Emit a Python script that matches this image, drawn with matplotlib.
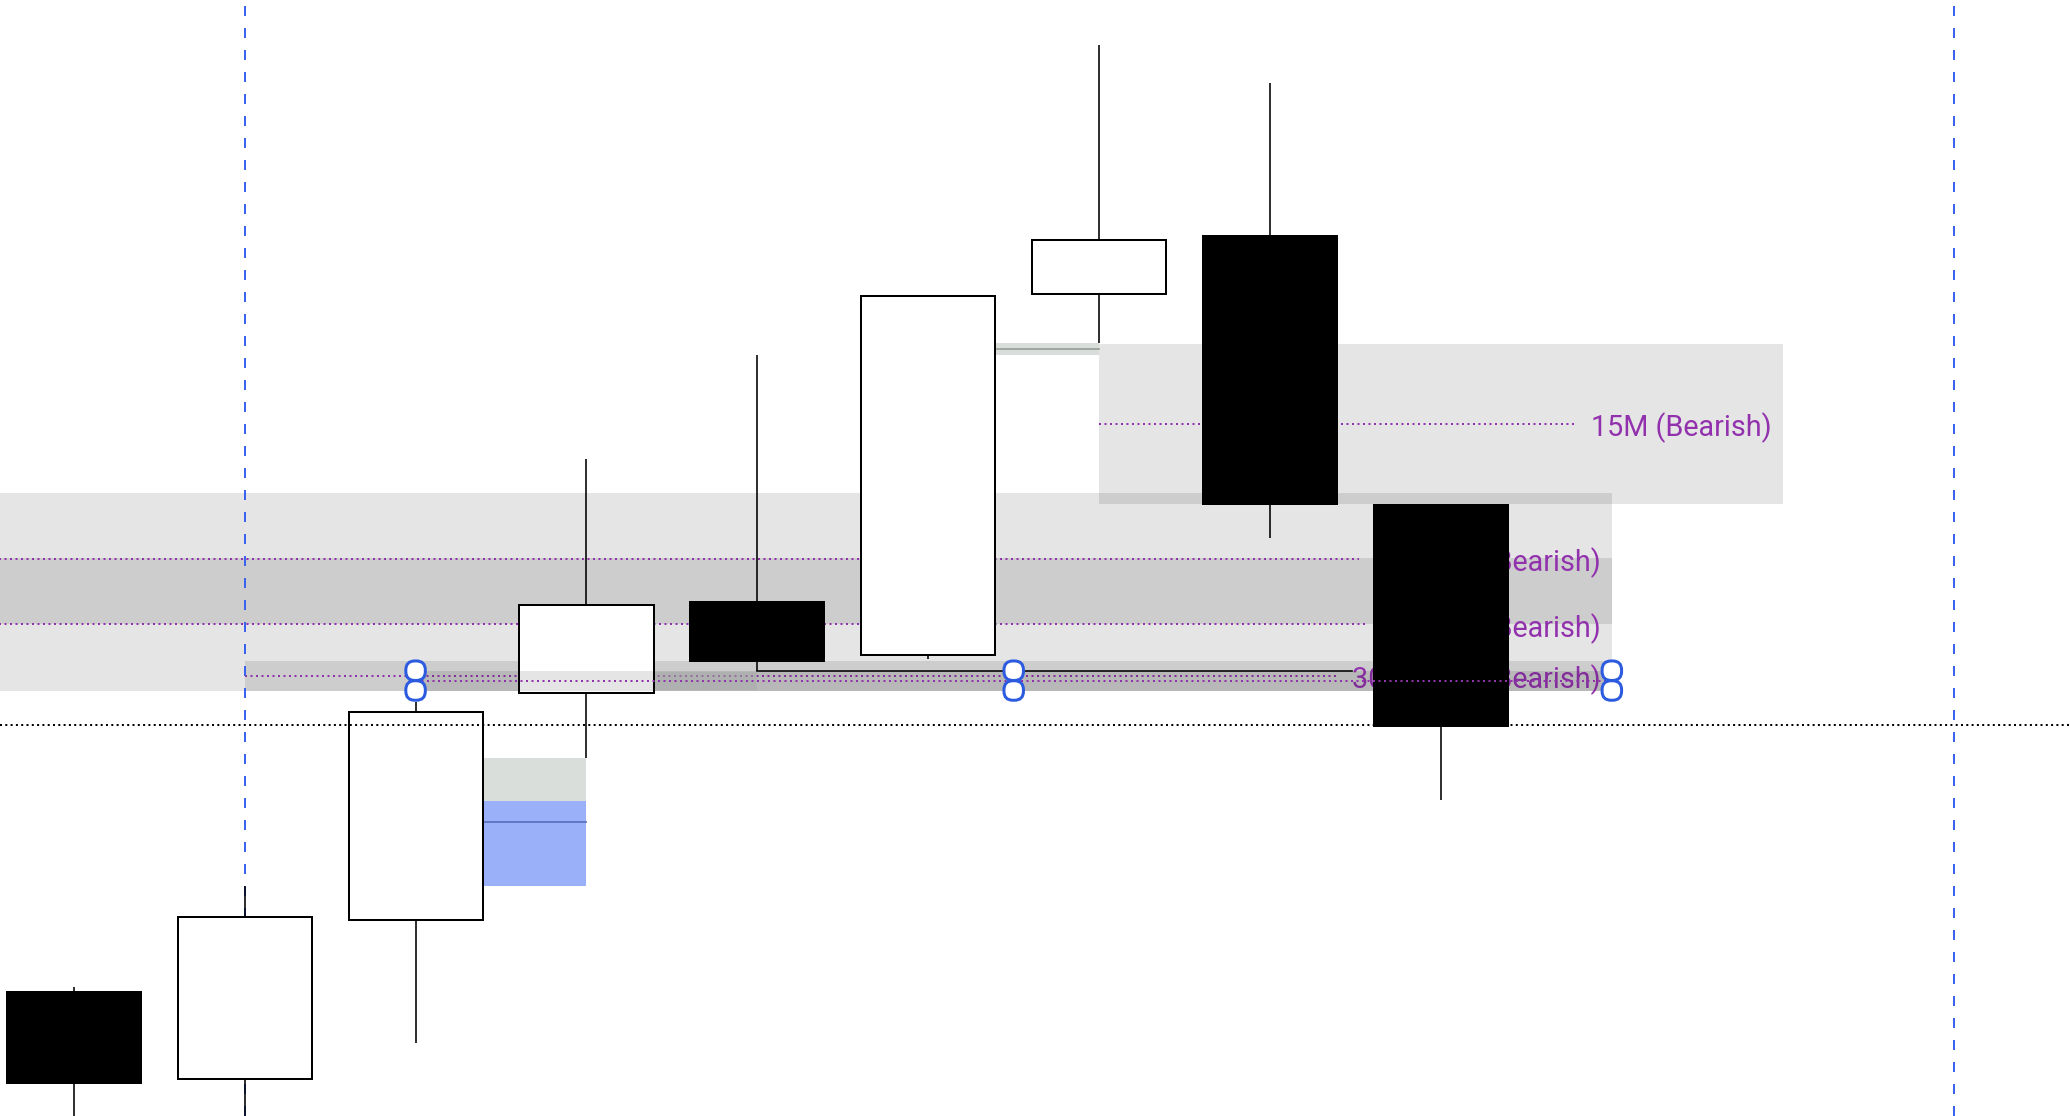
import matplotlib
matplotlib.use("Agg")
import matplotlib.pyplot as plt
from matplotlib.patches import Rectangle, FancyBboxPatch
from matplotlib.transforms import IdentityTransform
import numpy as np

W, H, DPI = 2070, 1116, 100
PX = 72.0 / DPI  # points per pixel

# ---------------- data ----------------
bar_index = np.arange(9)
opens  = [124.0, 37.0, 196.0, 422.7, 514.0, 461.3, 822.0, 880.0, 611.0]
closes = [33.3, 199.3, 404.3, 511.3, 455.0, 819.7, 875.7, 612.3, 390.3]
highs  = [129.0, 230.0, 414.0, 656.6, 761.0, 819.7, 1071.0, 1033.0, 611.0]
lows   = [-20.0, -20.0, 73.3, 358.3, 445.3, 456.7, 773.3, 578.3, 316.0]

# higher-timeframe zones (bar start, bar end, top, bottom, label)
zone_labels = ["4H iFVG (Bearish)", "1H FVG (Bearish)", "30M iFVG (Bearish)", "15M (Bearish)"]
zone_start  = [-1.0, -1.0, 1.0, 6.0]
zone_end    = [9.0, 9.0, 9.0, 10.0]
zone_top    = [623.0, 558.0, 455.0, 772.0]
zone_bottom = [492.0, 425.5, 425.5, 612.0]

# selected rectangle drawing
sel_start, sel_end = 2.0, 9.0
sel_top, sel_bottom = 445.3, 425.5
handle_bars = [2.0, 5.5, 9.0]

# gap boxes (grey-green)
gap_start  = [2.0, 5.0, 3.0]
gap_end    = [3.0, 6.0, 4.0]
gap_top    = [358.3, 773.3, 444.0]
gap_bottom = [315.0, 761.0, 426.0]
gap_mid_line = [None, 767.3, None]

# blue filled part of the first gap
blue_start, blue_end = 2.0, 3.0
blue_top, blue_bottom = 315.0, 230.3
blue_mid = 294.2

# levels
level_price = 445.3        # low of bar 4
level_start = 4.0
current_price = 391.0      # dotted horizontal line
session_bars = [1.0, 11.0] # blue dashed verticals

# ---------------- style ----------------
PURPLE = "#9231ad"
BLUE = "#3b63ee"
HBLUE = "#2d5be0"

fig = plt.figure(figsize=(W / DPI, H / DPI), dpi=DPI)
fig.patch.set_facecolor("white")
ax = fig.add_axes([0, 0, 1, 1])
ax.set_xlim(-0.4318, 11.681)
ax.set_ylim(0, 1116)
ax.axis("off")

# font size calibration: "15M (Bearish)" ~180 px wide
tmp = fig.text(0, 0, zone_labels[3], fontsize=20, family="Roboto")
fig.canvas.draw()
rend = fig.canvas.get_renderer()
w20 = tmp.get_window_extent(rend).width
tmp.remove()
FS = 20 * 180.0 / w20

# session separators
for sb in session_bars:
    ax.plot([sb, sb], [1116, 0], color=BLUE, lw=2 * PX,
            linestyle=(8, (5, 6)), zorder=2.5, solid_capstyle="butt")

# zones
for x0, x1, t, b in zip(zone_start, zone_end, zone_top, zone_bottom):
    ax.add_patch(Rectangle((x0, b), x1 - x0, t - b, facecolor="black",
                           alpha=0.1, lw=0, zorder=1))

# labels
label_artists = []
for x1, t, b, lab in zip(zone_end, zone_top, zone_bottom, zone_labels):
    mid = (t + b) / 2
    a = ax.annotate(lab, xy=(x1, mid), xytext=(-11 * PX, -12.5 * PX),
                    textcoords="offset points", ha="right", va="baseline",
                    color=PURPLE, fontsize=FS, family="Roboto", zorder=1.6)
    label_artists.append(a)

fig.canvas.draw()
rend = fig.canvas.get_renderer()
inv = ax.transData.inverted()
label_left = []
for a in label_artists:
    bb = a.get_window_extent(rend)
    label_left.append(bb.x0)

dotted = dict(color=PURPLE, lw=2 * PX, linestyle=(0, (1, 1.75)), dash_capstyle="butt")
for x0, t, b, lx in zip(zone_start, zone_top, zone_bottom, label_left):
    mid = (t + b) / 2
    xend = inv.transform((lx - 14, 0))[0]
    ax.plot([x0, xend], [mid, mid], zorder=1.5, **dotted)

# gap boxes
for x0, x1, t, b, m in zip(gap_start, gap_end, gap_top, gap_bottom, gap_mid_line):
    ax.add_patch(Rectangle((x0, b), x1 - x0, t - b, facecolor="#bac1bc",
                           alpha=0.53, lw=0, zorder=2))
    if m is not None:
        ax.plot([x0, x1], [m, m], color="#9aa29c", lw=1.8 * PX, zorder=2.1)
ax.add_patch(Rectangle((blue_start, blue_bottom), blue_end - blue_start,
                       blue_top - blue_bottom, facecolor="#9ab0f8", lw=0, zorder=2))
ax.plot([blue_start, blue_end], [blue_mid, blue_mid], color="#5a72c0",
        lw=1.8 * PX, zorder=2.1)

# candles
o = np.array(opens); c = np.array(closes)
bottoms = np.minimum(o, c)
heights = np.abs(c - o)
faces = ["black" if cc < oo else "white" for oo, cc in zip(o, c)]
ax.vlines(bar_index, lows, highs, color="black", lw=1.6 * PX, zorder=3)
ax.bar(bar_index, heights, bottom=bottoms, width=0.785, color=faces,
       edgecolor="black", linewidth=2 * PX, zorder=4)

# level line from bar 4 low to the 30M label
lvl_end = inv.transform((label_left[2], 0))[0]
ax.plot([level_start, lvl_end], [level_price, level_price], color="black",
        lw=1.6 * PX, zorder=3.5)

# selected rectangle above candles
ax.add_patch(Rectangle((sel_start, sel_bottom), sel_end - sel_start,
                       sel_top - sel_bottom, facecolor="black", alpha=0.1,
                       lw=0, zorder=5))
sel_mid = (sel_top + sel_bottom) / 2
ax.plot([sel_start, sel_end], [sel_mid, sel_mid], zorder=5.5, **dotted)

# current price dotted line
ax.axhline(current_price, color="black", lw=2 * PX, linestyle=(0, (1, 1.65)),
           zorder=6)

# handles (display coords)
for hb in handle_bars:
    for hy in (sel_bottom, sel_top):
        cx, cy = ax.transData.transform((hb, hy))
        s = 19.5
        p = FancyBboxPatch((cx - s / 2, cy - s / 2), s, s,
                           boxstyle="round,pad=0,rounding_size=9",
                           transform=IdentityTransform(), facecolor="white",
                           edgecolor=HBLUE, lw=3 * PX, zorder=8)
        fig.add_artist(p)

fig.savefig("out.png", dpi=DPI, facecolor="white")
